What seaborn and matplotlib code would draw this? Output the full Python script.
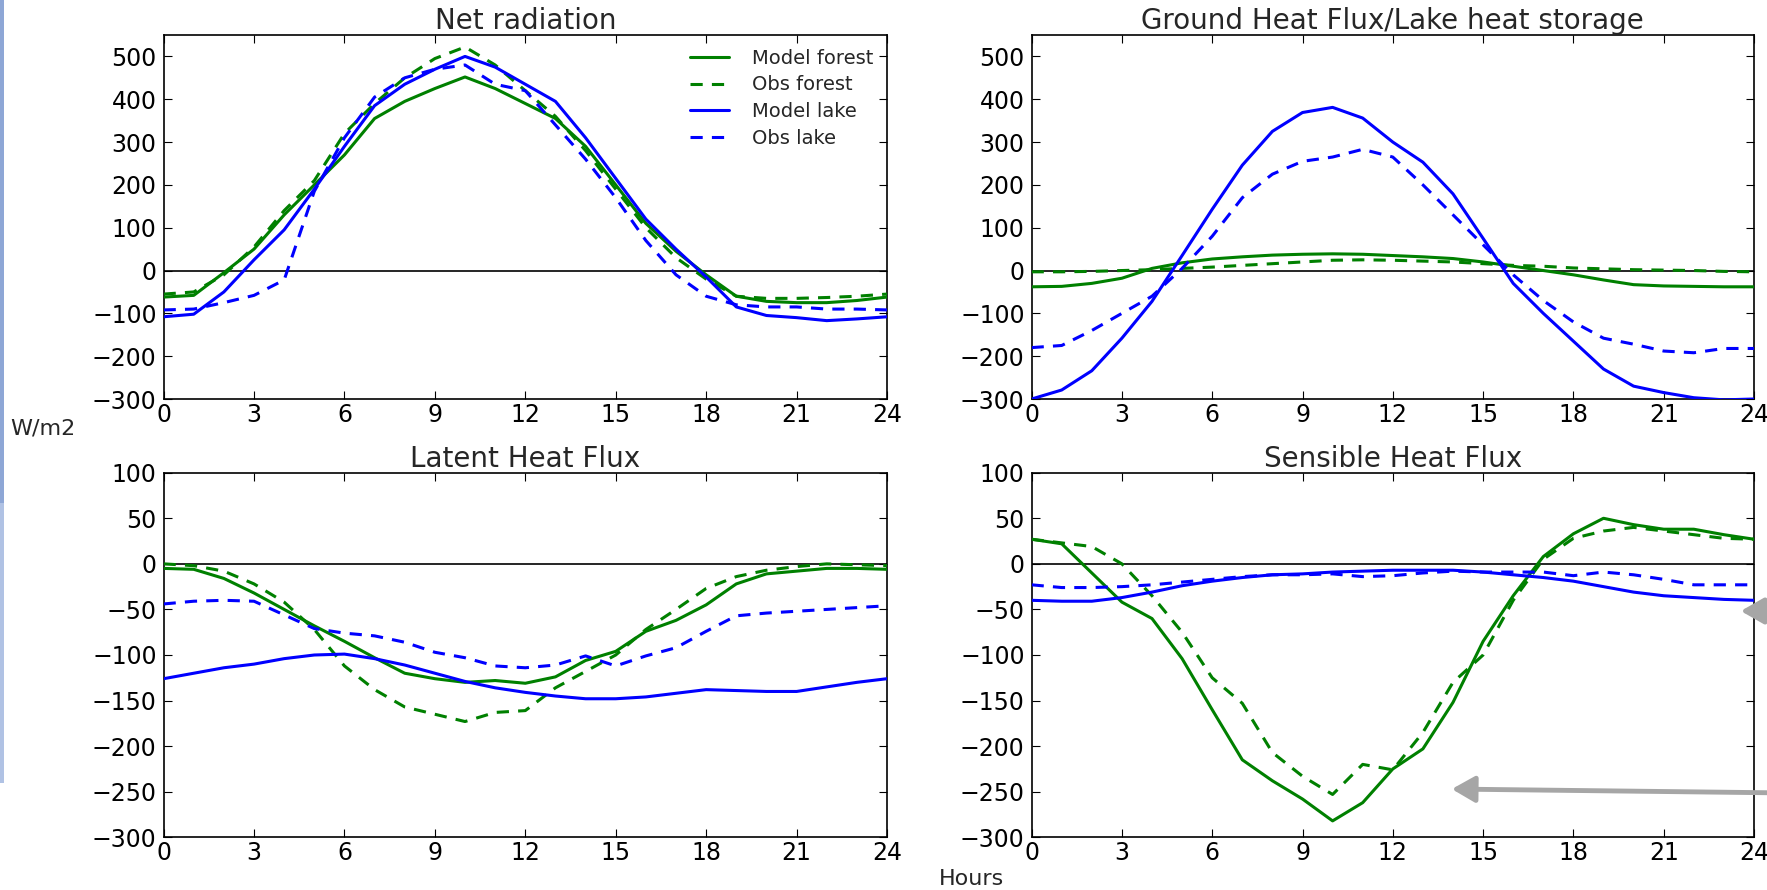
import numpy as np
import pandas as pd
import matplotlib
matplotlib.use("Agg")
import matplotlib.pyplot as plt
from matplotlib.patches import Rectangle, FancyArrowPatch
import seaborn as sns

hours = list(range(25))
series_names = ["Model forest", "Obs forest", "Model lake", "Obs lake"]

# Net radiation
rn_model_forest = [-62, -58, -5, 50, 130, 200, 270, 355, 395, 425, 452, 425, 390, 355, 290, 200, 110, 45, -10, -60, -72, -75, -75, -70, -62]
rn_obs_forest = [-55, -50, -10, 55, 140, 210, 320, 390, 450, 495, 522, 480, 420, 360, 280, 190, 100, 30, -20, -60, -65, -65, -63, -60, -55]
rn_model_lake = [-108, -102, -50, 25, 95, 190, 290, 385, 435, 470, 500, 475, 435, 395, 310, 215, 120, 50, -15, -85, -105, -110, -117, -113, -108]
rn_obs_lake = [-92, -90, -75, -58, -22, 185, 310, 405, 450, 470, 480, 435, 420, 340, 260, 170, 70, -10, -60, -80, -85, -85, -90, -90, -92]

# Ground heat flux / lake heat storage
g_model_forest = [-38, -37, -30, -18, 5, 18, 27, 32, 36, 38, 39, 38, 35, 32, 28, 20, 10, 0, -10, -22, -33, -36, -37, -38, -38]
g_obs_forest = [-3, -3, -2, 0, 2, 5, 8, 12, 16, 20, 24, 25, 24, 22, 20, 16, 12, 10, 6, 4, 2, 1, 0, -2, -3]
g_model_lake = [-300, -279, -234, -158, -72, 35, 143, 246, 325, 369, 381, 356, 300, 253, 179, 75, -30, -100, -165, -230, -270, -285, -297, -302, -300]
g_obs_lake = [-180, -175, -140, -100, -60, 5, 80, 170, 225, 255, 265, 283, 265, 200, 130, 60, -10, -70, -120, -158, -172, -188, -192, -182, -182]

# Latent heat flux
le_model_forest = [-5, -6, -16, -32, -50, -68, -85, -103, -120, -126, -130, -128, -131, -124, -106, -96, -74, -62, -45, -22, -11, -8, -5, -5, -6]
le_obs_forest = [0, -2, -8, -22, -42, -72, -112, -138, -157, -165, -173, -163, -161, -136, -118, -100, -72, -50, -27, -14, -7, -3, 0, -1, -2]
le_model_lake = [-126, -120, -114, -110, -104, -100, -99, -104, -111, -120, -129, -136, -141, -145, -148, -148, -146, -142, -138, -139, -140, -140, -135, -130, -126]
le_obs_lake = [-44, -41, -40, -41, -56, -71, -76, -79, -86, -97, -103, -112, -114, -111, -101, -112, -101, -92, -74, -57, -54, -52, -50, -48, -46]

# Sensible heat flux
h_model_forest = [27, 22, -10, -42, -60, -104, -160, -215, -238, -258, -282, -262, -225, -203, -152, -85, -35, 8, 33, 50, 43, 38, 38, 32, 27]
h_obs_forest = [27, 23, 19, 0, -35, -75, -125, -153, -207, -233, -253, -220, -226, -185, -130, -100, -40, 5, 28, 36, 40, 36, 32, 28, 27]
h_model_lake = [-40, -41, -41, -37, -31, -24, -19, -15, -12, -11, -9, -8, -7, -7, -7, -9, -12, -15, -19, -25, -31, -35, -37, -39, -40]
h_obs_lake = [-23, -26, -26, -25, -23, -20, -17, -14, -12, -12, -11, -14, -13, -10, -8, -9, -9, -9, -13, -9, -12, -17, -23, -23, -23]

panels = [
    ("Net radiation", [rn_model_forest, rn_obs_forest, rn_model_lake, rn_obs_lake], (-300, 550), range(-300, 501, 100)),
    ("Ground Heat Flux/Lake heat storage", [g_model_forest, g_obs_forest, g_model_lake, g_obs_lake], (-300, 550), range(-300, 501, 100)),
    ("Latent Heat Flux", [le_model_forest, le_obs_forest, le_model_lake, le_obs_lake], (-300, 100), range(-300, 101, 50)),
    ("Sensible Heat Flux", [h_model_forest, h_obs_forest, h_model_lake, h_obs_lake], (-300, 100), range(-300, 101, 50)),
]

colors = {"Model forest": "#008000", "Obs forest": "#008000", "Model lake": "#0000ff", "Obs lake": "#0000ff"}
dashes = {"Model forest": "", "Obs forest": (4, 3), "Model lake": "", "Obs lake": (4, 3)}

sns.set_style("ticks")
plt.rcParams["font.family"] = ["DejaVu Sans"]
plt.rcParams.update({
    "xtick.direction": "in", "ytick.direction": "in",
    "xtick.top": True, "ytick.right": True,
    "xtick.major.size": 6, "ytick.major.size": 6,
    "axes.edgecolor": "black", "axes.linewidth": 1.2,
    "xtick.color": "black", "ytick.color": "black",
})

fig = plt.figure(figsize=(17.67, 8.90), dpi=100)
W, H = 1767, 890
boxes = [
    (163.6, 35, 887, 399),
    (1031.6, 35, 1754, 399),
    (163.6, 472.7, 887, 837.3),
    (1031.6, 472.7, 1754, 837.3),
]

for i, (title, vals, ylim, yticks) in enumerate(panels):
    x0, y0, x1, y1 = boxes[i]
    ax = fig.add_axes([x0 / W, 1 - y1 / H, (x1 - x0) / W, (y1 - y0) / H])
    df = pd.DataFrame({
        "hour": hours * 4,
        "value": sum(vals, []),
        "series": [n for n in series_names for _ in hours],
    })
    ax.axhline(0, color="black", lw=1.2, zorder=1)
    sns.lineplot(data=df, x="hour", y="value", hue="series", style="series",
                 palette=colors, dashes=dashes, lw=2.2, ax=ax, legend=False, zorder=3)
    ax.set_xlim(0, 24)
    ax.set_ylim(*ylim)
    ax.set_xticks(range(0, 25, 3))
    ax.set_yticks(list(yticks))
    ax.set_xlabel("")
    ax.set_ylabel("")
    ax.set_title(title, fontsize=20, pad=3)
    ax.tick_params(axis="x", labelsize=17, pad=3)
    ax.tick_params(axis="y", labelsize=17, pad=5)
    if i == 0:
        lines = [l for l in ax.get_lines() if l.get_zorder() == 3][:4]
        ax.legend(lines, series_names, loc="upper right", frameon=False,
                  fontsize=14, handlelength=2.0, handletextpad=1.2,
                  labelspacing=0.4, borderaxespad=0.3)

fig.text(43 / W, 1 - 428 / H, "W/m2", fontsize=16, ha="center", va="center")
fig.text(971 / W, 1 - 879 / H, "Hours", fontsize=16, ha="center", va="center")

# slide background strip on the left edge
fig.add_artist(Rectangle((0, 1 - 503 / H), 4 / W, 503 / H, transform=fig.transFigure, color="#8ea7d6", lw=0))
fig.add_artist(Rectangle((0, 1 - 783 / H), 4 / W, 280 / H, transform=fig.transFigure, color="#b0c2e4", lw=0))

# gray pointer arrows from the slide
for (tx, ty), (hx, hy) in [((1790, 611), (1738, 611)), ((1790, 793), (1449, 789))]:
    fig.add_artist(FancyArrowPatch((tx / W, 1 - ty / H), (hx / W, 1 - hy / H),
                                   transform=fig.transFigure, arrowstyle="-|>,head_length=0.7,head_width=0.4",
                                   mutation_scale=20, color="#a6a6a6", lw=3.5))

fig.savefig("out.png", dpi=100)
